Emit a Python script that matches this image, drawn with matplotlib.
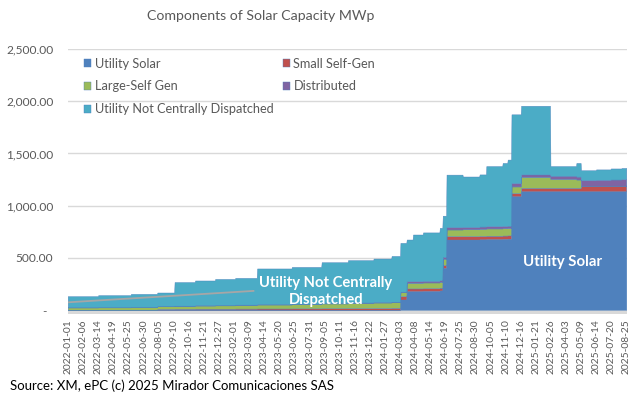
import numpy as np
import pandas as pd
import matplotlib
matplotlib.use('Agg')
import matplotlib.pyplot as plt

plt.rcParams['font.family'] = ['Lato', 'DejaVu Sans']

# Puntos de cambio (capacidad constante hasta el siguiente cambio), MWp
change_dates = ['2022-01-01', '2022-03-15', '2022-06-01', '2022-08-03', '2022-09-13',
                '2022-11-01', '2022-12-19', '2023-02-05', '2023-03-29', '2023-06-20',
                '2023-08-30', '2023-11-01', '2024-01-01', '2024-02-13', '2024-03-05',
                '2024-03-20', '2024-04-04', '2024-04-28', '2024-06-07', '2024-06-14',
                '2024-06-23', '2024-08-01', '2024-09-10', '2024-09-26', '2024-11-04',
                '2024-11-16', '2024-11-25', '2024-12-18', '2025-02-26', '2025-04-29',
                '2025-05-10', '2025-06-15', '2025-07-20', '2025-08-15']
utility_solar = [0, 0, 0, 0, 0, 0, 0, 0, 0, 0, 0, 0, 0, 0, 98,
                 178, 178, 180, 185, 400, 672, 672, 674, 676, 678,
                 680, 1086, 1134, 1134, 1134, 1134, 1134, 1134, 1134]
small_self_gen = [0, 0, 0, 8, 9, 10, 10, 11, 12, 13, 14, 15, 16, 18, 32,
                  26, 26, 26, 26, 28, 32, 32, 32, 32, 32,
                  32, 30, 32, 32, 32, 54, 54, 54, 54]
large_self_gen = [22, 23, 25, 26, 28, 30, 32, 35, 38, 42, 46, 50, 53, 55, 38,
                  54, 54, 55, 56, 60, 64, 66, 68, 70, 70,
                  70, 64, 106, 86, 80, 0, 0, 0, 0]
distributed = [2, 2, 2, 2, 2, 3, 3, 3, 3, 3, 4, 4, 4, 4, 5,
               15, 15, 15, 16, 18, 22, 22, 22, 22, 22,
               22, 32, 23, 30, 28, 52, 55, 58, 62]
utility_ncd = [106, 115, 125, 129, 226, 237, 250, 256, 342, 352, 391, 406, 417, 438, 467,
               399, 447, 464, 501, 394, 503, 483, 499, 575, 603,
               633, 658, 657, 93, 131, 95, 100, 106, 107]

start_date = '2022-01-01'
end_date = '2025-08-26'

# linea de tendencia gris
trend_dates = ['2022-01-01', '2023-03-19']
trend_values = [76, 185]

series_names = ['Utility Solar', 'Small Self-Gen', 'Large-Self Gen', 'Distributed',
                'Utility Not Centrally Dispatched']
colors = ['#4f81bd', '#c0504d', '#9bbb59', '#8064a2', '#4bacc6']

# Expandir a serie diaria
days = pd.date_range(start_date, end_date, freq='D')
x = np.arange(len(days))
brk = np.searchsorted(days, pd.to_datetime(change_dates))
pos = np.searchsorted(brk, x, side='right') - 1
series = [np.array(s, dtype=float)[pos] for s in
          [utility_solar, small_self_gen, large_self_gen, distributed, utility_ncd]]

fig = plt.figure(figsize=(6.42, 3.96), dpi=100)
ax = fig.add_axes([68 / 642, 82.1 / 396, 559 / 642, 264.9 / 396])

ax.stackplot(x, *series, colors=colors, labels=series_names,
             linewidth=0.3, edgecolors=colors, zorder=2)

tx = np.searchsorted(days, pd.to_datetime(trend_dates))
ax.plot(tx, trend_values, color='#a6a6a6', linewidth=1.3, zorder=3)

ax.axhspan(-35, 0, color='#d9d9d9', zorder=1, linewidth=0)

ax.set_xlim(-0.5, len(x) - 0.5)
ax.set_ylim(-35, 2500)
yt = [0, 500, 1000, 1500, 2000, 2500]
ax.set_yticks(yt)
ax.set_yticklabels(['-  '] + [f'{v:,.2f}' for v in yt[1:]])
ax.yaxis.grid(True, color='#d9d9d9', linewidth=1.0, zorder=0)
ax.set_axisbelow(True)

xt = x[::36]
ax.set_xticks(xt)
ax.set_xticklabels([days[i].strftime('%Y-%m-%d') for i in xt], rotation=90)

ax.tick_params(axis='y', length=0, labelsize=8.6, labelcolor='#595959', pad=10.5)
ax.tick_params(axis='x', length=0, labelsize=7.4, labelcolor='#595959', pad=4)
for s in ax.spines.values():
    s.set_visible(False)

ax.text(615, 178, 'Utility Not Centrally\nDispatched', color='white', fontsize=10.6,
        fontweight='bold', ha='center', va='center', linespacing=1.25, zorder=4)
ax.text(1179, 465, 'Utility Solar', color='white', fontsize=10.8,
        fontweight='bold', ha='center', va='center', zorder=4)

handles, labels = ax.get_legend_handles_labels()
order = [0, 2, 4, 1, 3]
fig.legend([handles[i] for i in order], [labels[i] for i in order],
           loc='upper left', bbox_to_anchor=(84 / 642, 1 - 57.5 / 396), ncol=2,
           frameon=False, fontsize=9.2, labelcolor='#595959',
           handlelength=0.55, handleheight=0.55, handletextpad=0.3,
           labelspacing=0.85, columnspacing=0.7, borderpad=0, borderaxespad=0)

fig.text(261 / 642, 1 - 16.5 / 396, 'Components of Solar Capacity MWp', ha='center',
         va='center', fontsize=10.2, color='#595959')
fig.text(10 / 642, 1 - 386 / 396, 'Source: XM, ePC (c) 2025 Mirador Comunicaciones SAS',
         ha='left', va='center', fontsize=9.5, color='black')

fig.savefig('out.png', dpi=100)
